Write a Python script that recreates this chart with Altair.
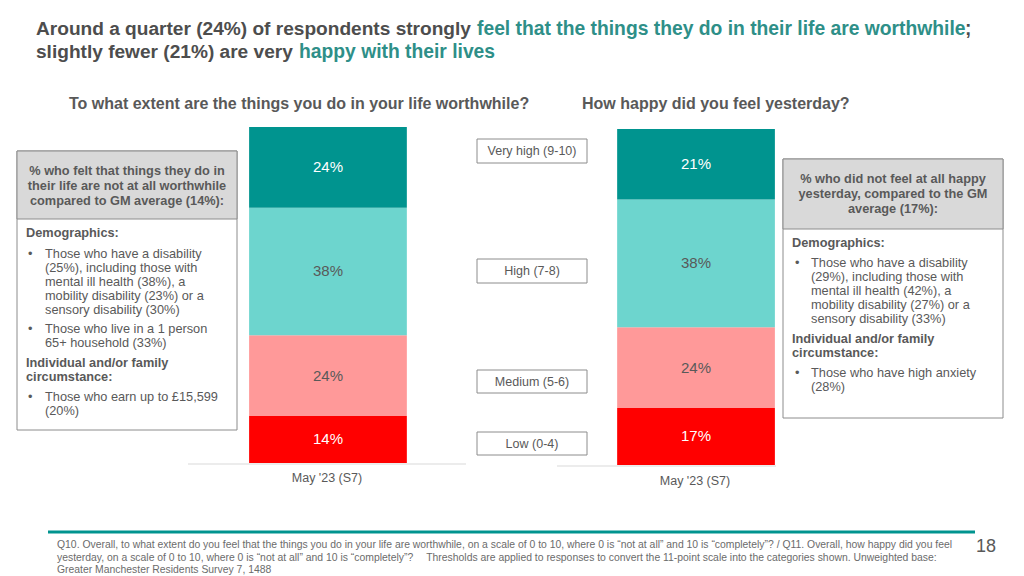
import altair as alt
import pandas as pd

# ---------------- data ----------------
categories = ["Low (0-4)", "Medium (5-6)", "High (7-8)", "Very high (9-10)"]
worthwhile = [14, 24, 38, 24]
happy = [17, 24, 38, 21]
questions = ["worthwhile", "happy"]
wave_label = "May '23 (S7)"
bar_colors = ["#FF0000", "#FF9999", "#6DD5CE", "#00948F"]

rows = []
for q, vals in zip(questions, [worthwhile, happy]):
    for rank, (c, v) in enumerate(zip(categories, vals)):
        rows.append({"question": q, "cat": c, "rank": rank, "pct": v})
df = pd.DataFrame(rows)

# ---------------- helpers ----------------
W, H = 1008, 568
FONT = "Liberation Sans"
GRAY = "#595959"
TITLE_GRAY = "#4D4D4D"
TITLE_TEAL = "#2E8F88"
BORDER = "#8C8C8C"
BOX_FS = 12.75

one = alt.Chart(pd.DataFrame({"a": [0]}))


def px(v):
    return v - 8


def txt(x, y, s, size=BOX_FS, weight="normal", color=GRAY, align="left", baseline="middle"):
    return one.mark_text(text=s, fontSize=size, fontWeight=weight, color=color,
                         align=align, baseline=baseline, font=FONT).encode(
        x=alt.value(px(x)), y=alt.value(px(y)))


def rect(x1, y1, x2, y2, fill, stroke=BORDER, sw=1):
    return one.mark_rect(fill=fill, stroke=stroke, strokeWidth=sw).encode(
        x=alt.value(px(x1)), x2=alt.value(px(x2)), y=alt.value(px(y1)), y2=alt.value(px(y2)))


def hrule(x1, x2, y, color, sw=1):
    return one.mark_rule(color=color, strokeWidth=sw).encode(
        x=alt.value(px(x1)), x2=alt.value(px(x2)), y=alt.value(px(y)))


layers = []

# ---------------- bars ----------------
xscale = alt.Scale(domain=questions, paddingInner=0.5714, paddingOuter=0.6551)


def bar_layers(q, rng):
    b = alt.Chart(df).transform_filter(alt.datum.question == q).transform_stack(
        stack="pct", groupby=["question"], as_=["y0", "y1"],
        sort=[alt.SortField("rank", order="ascending")])
    ys = alt.Scale(domain=[0, 100], range=rng)
    bars = b.mark_bar(strokeWidth=0).encode(
        x=alt.X("question:N", scale=xscale, axis=None),
        y=alt.Y("y0:Q", scale=ys, axis=None),
        y2="y1:Q",
        color=alt.Color("cat:N", scale=alt.Scale(domain=categories, range=bar_colors), legend=None),
    )
    labels = b.transform_calculate(
        mid="(datum.y0 + datum.y1) / 2", lab="datum.pct + '%'"
    ).mark_text(fontSize=15, font=FONT, baseline="middle").encode(
        x=alt.X("question:N", scale=xscale, axis=None),
        y=alt.Y("mid:Q", scale=ys, axis=None),
        text="lab:N",
        color=alt.condition("datum.rank == 0 || datum.rank == 3", alt.value("white"), alt.value(GRAY)),
    )
    return [bars, labels]


layers += bar_layers("worthwhile", [px(463), px(127)])
layers += bar_layers("happy", [px(465), px(129)])

# axis base lines and wave labels
layers.append(hrule(188, 466, 464, "#D9D9D9"))
layers.append(hrule(557, 776, 466, "#D9D9D9"))
layers.append(txt(327, 478, wave_label, size=12.5, align="center"))
layers.append(txt(695, 481, wave_label, size=12.5, align="center"))

# ---------------- legend boxes ----------------
for (y1, y2), cat in zip([(432, 455), (370, 393), (259, 283), (139, 163)], categories):
    layers.append(rect(477, y1, 587, y2, "white"))
    layers.append(txt(532, (y1 + y2) / 2, cat, size=12.5, align="center"))

# ---------------- title ----------------
TFS = 19.3
DFS = 19.1
layers.append(txt(36, 35, "Around a quarter (24%) of respondents strongly", DFS, "bold", TITLE_GRAY, baseline="alphabetic"))
layers.append(txt(477, 35, "feel that the things they do in their life are worthwhile", TFS, "bold", TITLE_TEAL, baseline="alphabetic"))
layers.append(txt(965, 35, ";", TFS, "bold", TITLE_GRAY, baseline="alphabetic"))
layers.append(txt(36, 58, "slightly fewer (21%) are very", DFS, "bold", TITLE_GRAY, baseline="alphabetic"))
layers.append(txt(299, 58, "happy with their lives", TFS, "bold", TITLE_TEAL, baseline="alphabetic"))

# subtitles
layers.append(txt(69, 109, "To what extent are the things you do in your life worthwhile?", 16, "bold", GRAY, baseline="alphabetic"))
layers.append(txt(582, 109, "How happy did you feel yesterday?", 16, "bold", GRAY, baseline="alphabetic"))

# ---------------- left annotation box ----------------
layers.append(rect(17, 151, 237, 430, "white"))
layers.append(rect(17, 151, 237, 219, "#D9D9D9"))
for y, s in zip([171, 186, 201], ["% who felt that things they do in",
                                  "their life are not at all worthwhile",
                                  "compared to GM average (14%):"]):
    layers.append(txt(127, y, s, BOX_FS, "bold", GRAY, align="center"))
layers.append(txt(26, 233, "Demographics:", BOX_FS, "bold"))
left_bullets = [
    (254, ["Those who have a disability", "(25%), including those with",
           "mental ill health (38%), a", "mobility disability (23%) or a",
           "sensory disability (30%)"]),
    (329, ["Those who live in a 1 person", "65+ household (33%)"]),
    (397, ["Those who earn up to £15,599", "(20%)"]),
]
for y0, lines in left_bullets:
    layers.append(txt(28, y0, "•", BOX_FS))
    for i, s in enumerate(lines):
        layers.append(txt(45, y0 + 14 * i, s, BOX_FS))
layers.append(txt(26, 363, "Individual and/or family", BOX_FS, "bold"))
layers.append(txt(26, 377, "circumstance:", BOX_FS, "bold"))

# ---------------- right annotation box ----------------
layers.append(rect(783, 159, 1003, 418, "white"))
layers.append(rect(783, 159, 1003, 229, "#D9D9D9"))
for y, s in zip([179, 194, 209], ["% who did not feel at all happy",
                                  "yesterday, compared to the GM",
                                  "average (17%):"]):
    layers.append(txt(893, y, s, BOX_FS, "bold", GRAY, align="center"))
layers.append(txt(792, 243, "Demographics:", BOX_FS, "bold"))
right_bullets = [
    (263, ["Those who have a disability", "(29%), including those with",
           "mental ill health (42%), a", "mobility disability (27%) or a",
           "sensory disability (33%)"]),
    (373, ["Those who have high anxiety", "(28%)"]),
]
for y0, lines in right_bullets:
    layers.append(txt(795, y0, "•", BOX_FS))
    for i, s in enumerate(lines):
        layers.append(txt(811, y0 + 14 * i, s, BOX_FS))
layers.append(txt(792, 339, "Individual and/or family", BOX_FS, "bold"))
layers.append(txt(792, 353, "circumstance:", BOX_FS, "bold"))

# ---------------- footer ----------------
layers.append(hrule(48, 975, 532, "#00948F", 3))
foot = [
    "Q10. Overall, to what extent do you feel that the things you do in your life are worthwhile, on a scale of 0 to 10, where 0 is \u201cnot at all\u201d and 10 is \u201ccompletely\u201d? / Q11. Overall, how happy did you feel",
    "yesterday, on a scale of 0 to 10, where 0 is \u201cnot at all\u201d and 10 is \u201ccompletely\u201d?\u2003 Thresholds are applied to responses to convert the 11-point scale into the categories shown. Unweighted base:",
    "Greater Manchester Residents Survey 7, 1488",
]
for y, s in zip([545, 557.5, 570], foot):
    layers.append(txt(57, y, s, 10.4, "normal", "#6B6B6B"))
layers.append(txt(986, 547, "18", 18, "normal", GRAY, align="center"))

chart = alt.layer(*layers).resolve_scale(y="independent").properties(
    width=W, height=H, padding=0,
    autosize=alt.AutoSizeParams(type="none"),
).configure_view(stroke=None)

chart.save("out.html", embed_options={"renderer": "svg", "actions": False})
